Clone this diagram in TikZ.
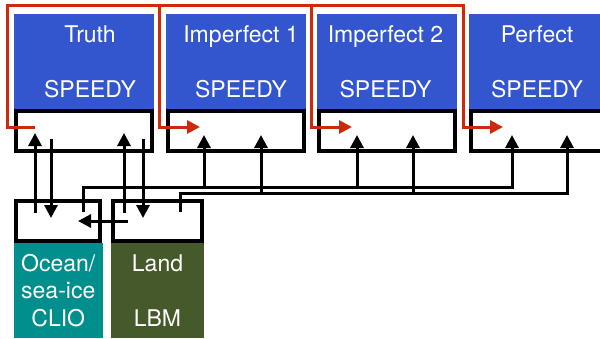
\documentclass[tikz,border=0pt]{standalone}
\usepackage{fontspec}
\setmainfont{TeX Gyre Heros}
\usetikzlibrary{arrows.meta,calc}
\definecolor{speedyblue}{HTML}{3356CF}
\definecolor{clioteal}{HTML}{008F8C}
\definecolor{lbmgreen}{HTML}{46592A}
\definecolor{feedred}{HTML}{CC2A0A}

\begin{document}
\begin{tikzpicture}[x=1pt,y=-1pt,
  model/.style={fill=speedyblue,minimum width=140pt,minimum height=96pt,
    anchor=north west,inner sep=0pt,outer sep=0pt},
  boxtext/.style={text=white,align=center,inner sep=0pt,
    font=\fontsize{23}{27.5}\selectfont},
  coupler/.style={draw=black,fill=white,line width=4pt,anchor=north west,
    inner sep=0pt,minimum height=40pt},
  comp/.style={anchor=north west,inner sep=0pt,outer sep=0pt,minimum height=95pt},
  link/.style={line width=3pt,draw=black},
  linkarr/.style={link,-{Triangle[length=13pt,width=13pt]}},
  feedarr/.style={line width=3pt,draw=feedred,-{Triangle[length=13pt,width=13pt]}}
]
\useasboundingbox (0,0) rectangle (600,338);
\clip (0,0) rectangle (600,338);

\foreach \n/\t/\x/\dx in {truth/Truth/14/6,imp1/Imperfect 1/166/5,
    imp2/Imperfect 2/317/-1.5,perf/Perfect/469/-2}{
  \node[model] (\n) at (\x,14) {};
  \node[boxtext] (\n-txt) at ($(\n.center)+(\dx,0)$) {\t\\[27.5pt]SPEEDY};
  \node[coupler,minimum width=136pt] (\n-cpl) at (\x,109) {};
}

\node[comp,fill=clioteal,minimum width=88.5pt] (ocean) at (14,243) {};
\node[boxtext] (ocean-txt) at (ocean.center) {Ocean/\\sea-ice\\CLIO};
\node[comp,fill=lbmgreen,minimum width=93pt] (land) at (111,243) {};
\node[boxtext] (land-txt) at (land.center) {Land\\[27.5pt]LBM};
\node[coupler,minimum width=84pt] (ocean-cpl) at (14,199) {};
\node[coupler,minimum width=89pt] (land-cpl) at (111,199) {};

\draw[linkarr] ($(ocean-cpl.north west)+(21,14)$) -- ($(truth-cpl.north west)+(21,24)$);
\draw[linkarr] ($(truth-cpl.north west)+(37,30)$) -- ($(ocean-cpl.north west)+(37,19)$);
\draw[linkarr] ($(land-cpl.north west)+(13,14)$) -- ($(truth-cpl.north west)+(110,24)$);
\draw[linkarr] ($(truth-cpl.north west)+(129,30)$) -- ($(land-cpl.north west)+(32,19)$);
\draw[linkarr] ($(land-cpl.north west)+(17,22)$) -- ($(ocean-cpl.north west)+(64,22)$);

\draw[linkarr] ($(ocean-cpl.north west)+(69,13)$) |- ($(perf-cpl.north west)+(43,78)$)
  -- ($(perf-cpl.north west)+(43,26)$);
\draw[linkarr] ($(land-cpl.north west)+(69,13)$) |- ($(perf-cpl.north west)+(98,84)$)
  -- ($(perf-cpl.north west)+(98,26)$);
\foreach \n/\a/\b in {imp1/38/95,imp2/40/96}{
  \draw[linkarr] ($(\n-cpl.north west)+(\a,78)$) -- ($(\n-cpl.north west)+(\a,26)$);
  \draw[linkarr] ($(\n-cpl.north west)+(\b,84)$) -- ($(\n-cpl.north west)+(\b,26)$);
}

\coordinate (feedtop) at (7,5);
\draw[feedarr] ($(truth-cpl.north west)+(21,18)$) -| (feedtop)
  -| ($(perf-cpl.north west)+(-6,18)$) -- ($(perf-cpl.north west)+(34,18)$);
\foreach \n/\v/\t in {imp1/-7/34,imp2/-6/35}
  \draw[feedarr] ($(feedtop -| \n-cpl.north west)+(\v,0)$)
    -- ($(\n-cpl.north west)+(\v,18)$) -- ($(\n-cpl.north west)+(\t,18)$);
\end{tikzpicture}
\end{document}
